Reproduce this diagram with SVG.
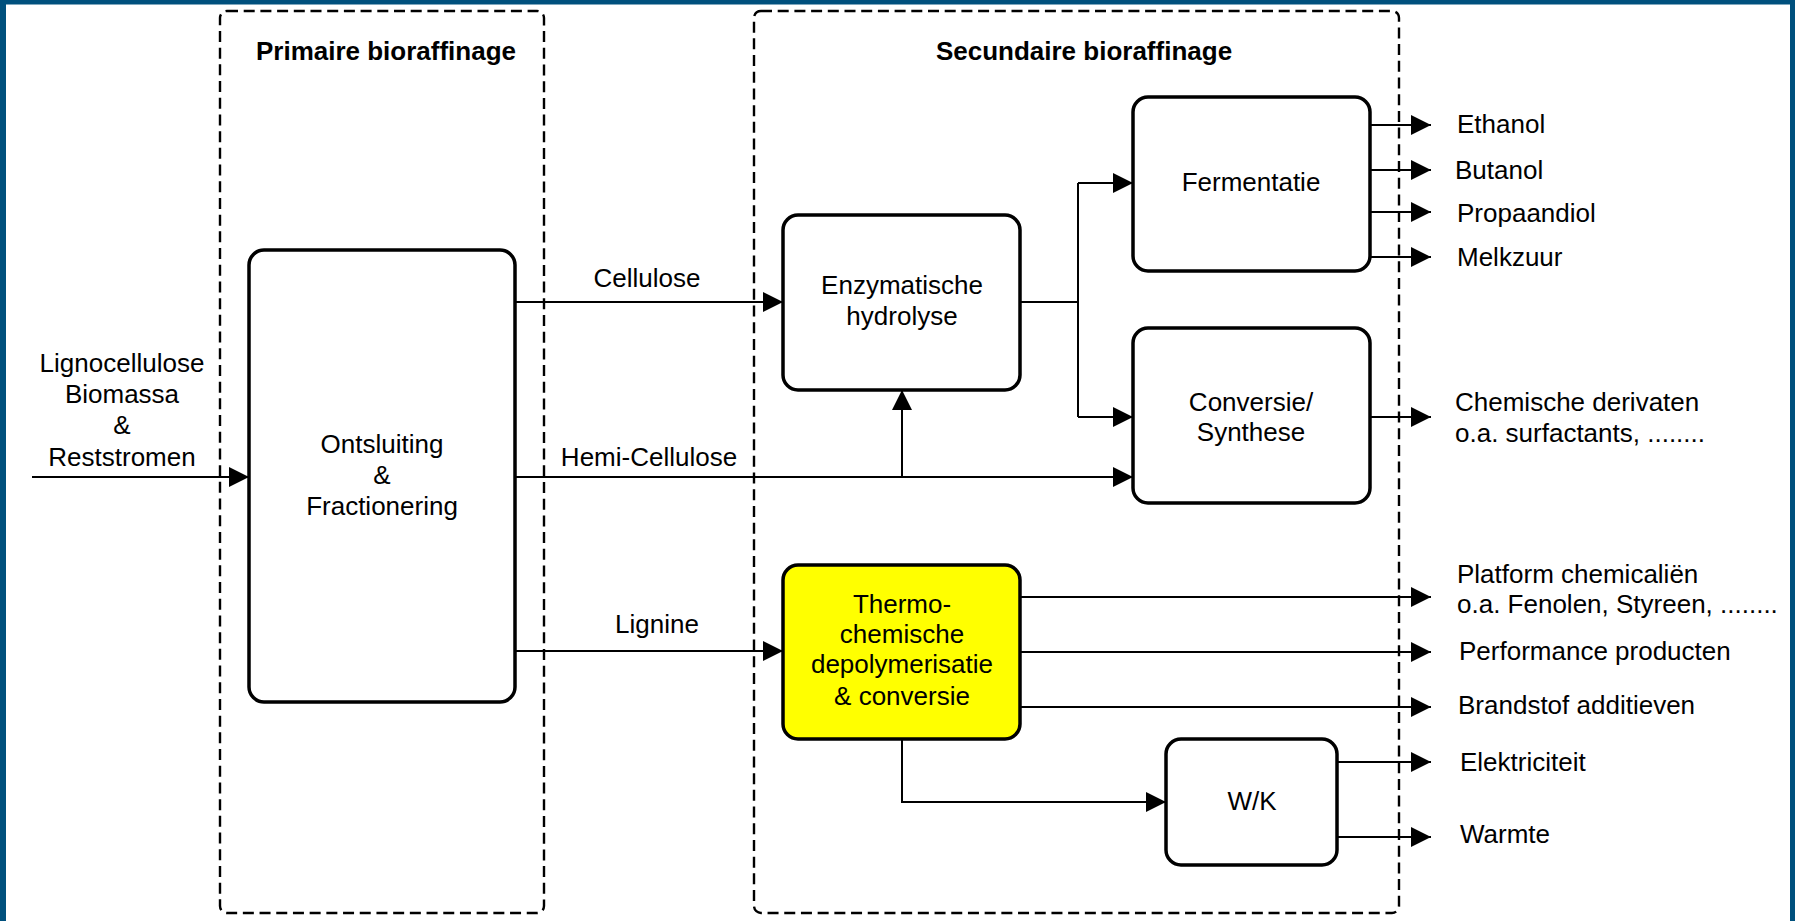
<svg xmlns="http://www.w3.org/2000/svg" width="1795" height="921" viewBox="0 0 1795 921">
<defs>
<style>
.frame{fill:none;stroke:#000;stroke-width:2.4;stroke-dasharray:11 5.7}
.box{fill:#fff;stroke:#000;stroke-width:3.5}
.yel{fill:#ffff00;stroke:#000;stroke-width:3.5}
.con{fill:none;stroke:#000;stroke-width:2}
.t{font-family:"Liberation Sans",Arial,sans-serif;font-size:26px;fill:#000}
.c{text-anchor:middle}
.b{font-weight:bold}
</style>
<marker id="ah" markerUnits="userSpaceOnUse" markerWidth="20" markerHeight="20" viewBox="0 0 20 20" refX="20" refY="10" orient="auto">
<path d="M0,0 L20,10 L0,20 z" fill="#000"/>
</marker>
</defs>
<rect x="0" y="0" width="1795" height="921" fill="#fff"/>
<rect x="0" y="0" width="1795" height="4.5" fill="#00507d"/>
<rect x="0" y="0" width="6" height="921" fill="#00507d"/>
<rect x="1790" y="0" width="5" height="921" fill="#00507d"/>

<g id="primaire">
<rect class="frame" x="220" y="11" width="324" height="902" rx="7"/>
<text class="t b c" x="386" y="60">Primaire bioraffinage</text>
</g>
<g id="secundaire">
<rect class="frame" x="754" y="11" width="645" height="902" rx="7"/>
<text class="t b c" x="1084" y="60">Secundaire bioraffinage</text>
</g>

<g id="connectors">
<path class="con" d="M32,477 H249" marker-end="url(#ah)"/>
<path class="con" d="M515,302 H783" marker-end="url(#ah)"/>
<path class="con" d="M515,477 H1133" marker-end="url(#ah)"/>
<path class="con" d="M902,477 V390" marker-end="url(#ah)"/>
<path class="con" d="M515,651 H783" marker-end="url(#ah)"/>
<path class="con" d="M1020,302 H1078"/>
<path class="con" d="M1078,183 V417"/>
<path class="con" d="M1078,183 H1133" marker-end="url(#ah)"/>
<path class="con" d="M1078,417 H1133" marker-end="url(#ah)"/>
<path class="con" d="M1370,125 H1431" marker-end="url(#ah)"/>
<path class="con" d="M1370,170 H1431" marker-end="url(#ah)"/>
<path class="con" d="M1370,212 H1431" marker-end="url(#ah)"/>
<path class="con" d="M1370,257 H1431" marker-end="url(#ah)"/>
<path class="con" d="M1370,417 H1431" marker-end="url(#ah)"/>
<path class="con" d="M1020,597 H1431" marker-end="url(#ah)"/>
<path class="con" d="M1020,652 H1431" marker-end="url(#ah)"/>
<path class="con" d="M1020,707 H1431" marker-end="url(#ah)"/>
<path class="con" d="M902,739 V802 H1166" marker-end="url(#ah)"/>
<path class="con" d="M1337,762 H1431" marker-end="url(#ah)"/>
<path class="con" d="M1337,837 H1431" marker-end="url(#ah)"/>
<text class="t c" x="647" y="287">Cellulose</text>
<text class="t c" x="649" y="466">Hemi-Cellulose</text>
<text class="t c" x="657" y="633">Lignine</text>
</g>

<g id="input">
<text class="t c" x="122" y="372">Lignocellulose</text>
<text class="t c" x="122" y="403">Biomassa</text>
<text class="t c" x="122" y="434">&amp;</text>
<text class="t c" x="122" y="466">Reststromen</text>
</g>

<g id="ontsluiting">
<rect class="box" x="249" y="250" width="266" height="452" rx="15"/>
<text class="t c" x="382" y="453">Ontsluiting</text>
<text class="t c" x="382" y="484">&amp;</text>
<text class="t c" x="382" y="515">Fractionering</text>
</g>

<g id="enzymatische">
<rect class="box" x="783" y="215" width="237" height="175" rx="15"/>
<text class="t c" x="902" y="294">Enzymatische</text>
<text class="t c" x="902" y="325">hydrolyse</text>
</g>

<g id="thermo">
<rect class="yel" x="783" y="565" width="237" height="174" rx="15"/>
<text class="t c" x="902" y="613">Thermo-</text>
<text class="t c" x="902" y="643">chemische</text>
<text class="t c" x="902" y="673">depolymerisatie</text>
<text class="t c" x="902" y="705">&amp; conversie</text>
</g>

<g id="fermentatie">
<rect class="box" x="1133" y="97" width="237" height="174" rx="15"/>
<text class="t c" x="1251" y="191">Fermentatie</text>
</g>

<g id="conversie">
<rect class="box" x="1133" y="328" width="237" height="175" rx="15"/>
<text class="t c" x="1251" y="411">Conversie/</text>
<text class="t c" x="1251" y="441">Synthese</text>
</g>

<g id="wk">
<rect class="box" x="1166" y="739" width="171" height="126" rx="15"/>
<text class="t c" x="1252" y="810">W/K</text>
</g>

<g id="outputs">
<text class="t" x="1457" y="133">Ethanol</text>
<text class="t" x="1455" y="179">Butanol</text>
<text class="t" x="1457" y="222">Propaandiol</text>
<text class="t" x="1457" y="266">Melkzuur</text>
<text class="t" x="1455" y="411">Chemische derivaten</text>
<text class="t" x="1455" y="442">o.a. surfactants, ........</text>
<text class="t" x="1457" y="583">Platform chemicaliën</text>
<text class="t" x="1457" y="613">o.a. Fenolen, Styreen, ........</text>
<text class="t" x="1459" y="660">Performance producten</text>
<text class="t" x="1458" y="714">Brandstof additieven</text>
<text class="t" x="1460" y="771">Elektriciteit</text>
<text class="t" x="1460" y="843">Warmte</text>
</g>
</svg>
